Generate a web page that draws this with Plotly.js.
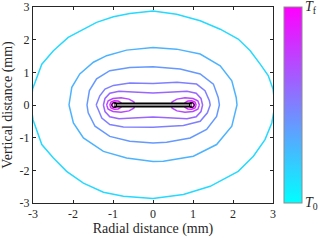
<!DOCTYPE html>
<html>
<head>
<meta charset="utf-8">
<script src="https://cdn.plot.ly/plotly-3.0.1.min.js"></script>
<style>html,body{margin:0;padding:0;background:#fff;}#chart{width:320px;height:240px;}</style>
</head>
<body>
<div id="chart"></div>
<script>
// Contour levels (fraction between T0 and Tf)
var levels = [0.15, 0.30, 0.40, 0.50, 0.60, 0.72, 0.85, 0.95];

// Isotherm coordinates (mm)
var c1x = [-3.05,-3.01,-2.78,-2.49,-2.12,-1.74,-1.41,-0.99,-0.58,0.00,0.59,1.18,1.68,2.13,2.43,2.68,2.88,3.00,3.05,2.97,2.80,2.51,2.13,1.43,0.76,0.00,-0.74,-1.24,-1.74,-2.16,-2.49,-2.78,-3.00,-3.05];
var c1y = [0.00,0.49,1.25,1.66,2.07,2.32,2.53,2.70,2.80,2.88,2.78,2.58,2.32,2.02,1.66,1.25,0.90,0.49,0.00,-0.55,-1.06,-1.57,-2.03,-2.49,-2.74,-2.86,-2.79,-2.67,-2.39,-2.03,-1.62,-1.21,-0.45,0.00];

var c2x = [-2.10,-2.03,-1.83,-1.49,-1.16,-0.66,0.00,0.59,1.18,1.68,1.97,2.08,2.10,1.97,1.59,1.01,0.26,0.00,-0.66,-1.24,-1.74,-1.99,-2.10];
var c2y = [0.00,0.54,0.95,1.31,1.51,1.68,1.76,1.71,1.56,1.20,0.74,0.23,0.00,-0.65,-1.21,-1.57,-1.72,-1.73,-1.62,-1.42,-1.01,-0.55,0.00];

var c3x = [-1.65,-1.59,-1.41,-1.08,-0.58,0.00,0.68,1.18,1.51,1.63,1.66,1.59,1.34,0.93,0.34,0.00,-0.58,-1.08,-1.45,-1.62,-1.65];
var c3y = [0.00,0.44,0.80,1.05,1.15,1.17,1.10,0.95,0.64,0.23,0.00,-0.35,-0.75,-1.01,-1.14,-1.16,-1.11,-0.96,-0.65,-0.24,0.00];

var c4x = [-1.42,-1.37,-1.33,-1.20,-0.99,-0.58,0.00,0.60,1.09,1.30,1.41,1.43,1.36,1.18,0.76,0.00,-0.74,-1.08,-1.28,-1.37,-1.42];
var c4y = [0.00,0.14,0.28,0.49,0.60,0.67,0.66,0.70,0.64,0.44,0.13,0.00,-0.24,-0.50,-0.63,-0.68,-0.67,-0.60,-0.40,-0.14,0.00];

var c5x = [-1.24,-1.20,-1.08,-0.85,-0.50,0.00,0.50,0.85,1.08,1.20,1.24,1.20,1.08,0.85,0.50,0.00,-0.50,-0.85,-1.08,-1.20,-1.24];
var c5y = [0.00,0.20,0.36,0.42,0.40,0.37,0.40,0.42,0.36,0.20,0.00,-0.20,-0.36,-0.42,-0.40,-0.37,-0.40,-0.42,-0.36,-0.20,0.00];

var c6Lx = [-1.16,-1.12,-1.00,-0.80,-0.60,-0.48,-0.45,-0.48,-0.60,-0.80,-1.00,-1.12,-1.16];
var c6Ly = [0.00,0.13,0.20,0.22,0.18,0.10,0.00,-0.10,-0.18,-0.22,-0.20,-0.13,0.00];
var c6Rx = [1.16,1.12,1.00,0.80,0.60,0.48,0.45,0.48,0.60,0.80,1.00,1.12,1.16];
var c6Ry = [0.00,0.13,0.20,0.22,0.18,0.10,0.00,-0.10,-0.18,-0.22,-0.20,-0.13,0.00];

var c7Lx = [-1.08,-1.05,-0.97,-0.87,-0.80,-0.78,-0.80,-0.87,-0.97,-1.05,-1.08];
var c7Ly = [0.00,0.09,0.13,0.12,0.07,0.00,-0.07,-0.12,-0.13,-0.09,0.00];
var c7Rx = [1.08,1.05,0.97,0.87,0.80,0.78,0.80,0.87,0.97,1.05,1.08];
var c7Ry = [0.00,0.09,0.13,0.12,0.07,0.00,-0.07,-0.12,-0.13,-0.09,0.00];

var c8Lx = [-1.03,-1.01,-0.96,-0.91,-0.89,-0.91,-0.96,-1.01,-1.03];
var c8Ly = [0.00,0.05,0.07,0.05,0.00,-0.05,-0.07,-0.05,0.00];
var c8Rx = [1.03,1.01,0.96,0.91,0.89,0.91,0.96,1.01,1.03];
var c8Ry = [0.00,0.05,0.07,0.05,0.00,-0.05,-0.07,-0.05,0.00];

// Heater needle
var needleX = [-0.97, 0.97];
var needleY = [0, 0];

var xTicks = [-3,-2,-1,0,1,2,3];
var xTickText = ['-3','-2','-1','0','1','2','3'];
var yTicks = [-3,-2,-1,0,1,2,3];
var yTickText = ['-3','-2','-1','0','1','2','3'];
var cbarLabels = ['<i>T</i><sub>0</sub>', '<i>T</i><sub>f</sub>'];

var SERIF = 'Liberation Serif';

function cool(t){
  var r = Math.round(255*t), g = Math.round(255*(1-t));
  return 'rgb(' + r + ',' + g + ',255)';
}

var contours = [
  [c1x,c1y,0],[c2x,c2y,1],[c3x,c3y,2],[c4x,c4y,3],[c5x,c5y,4],
  [c6Lx,c6Ly,5],[c6Rx,c6Ry,5],[c7Lx,c7Ly,6],[c7Rx,c7Ry,6],[c8Lx,c8Ly,7],[c8Rx,c8Ry,7]
];

var traces = contours.map(function(c){
  return {x:c[0], y:c[1], type:'scatter', mode:'lines',
    line:{color:cool(levels[c[2]]), width:1.5, shape:'linear'},
    hoverinfo:'skip', showlegend:false};
});

traces.push({x:needleX, y:needleY, type:'scatter', mode:'lines', line:{color:'#000', width:5}, showlegend:false, hoverinfo:'skip'});
traces.push({x:needleX, y:needleY, type:'scatter', mode:'lines+markers', line:{color:'#b4b4b4', width:1.6},
  marker:{size:5, color:'rgba(0,0,0,0)', line:{color:'#000', width:1}}, showlegend:false, hoverinfo:'skip'});

traces.push({x:[null,null], y:[null,null], type:'scatter', mode:'markers', showlegend:false, hoverinfo:'skip',
  marker:{color:[0,1], cmin:0, cmax:1, colorscale:[[0,'rgb(0,255,255)'],[1,'rgb(255,0,255)']], showscale:true,
    colorbar:{thickness:18, thicknessmode:'pixels', len:1, lenmode:'fraction', x:1.046, xanchor:'left', y:0.5, yanchor:'middle',
      xpad:0, ypad:0, outlinewidth:1, outlinecolor:'#8c8c8c', showticklabels:false, ticks:''}}});

var axisCommon = {showgrid:false, zeroline:false, showline:true, linecolor:'#262626', linewidth:1, mirror:'ticks',
  ticks:'inside', ticklen:3, tickcolor:'#262626', tickfont:{family:SERIF, size:12, color:'#262626'}};

var layout = {
  width:320, height:240,
  margin:{l:33, r:47, t:7, b:37, pad:0},
  paper_bgcolor:'#fff', plot_bgcolor:'#fff',
  font:{family:SERIF, color:'#262626'},
  xaxis:Object.assign({}, axisCommon, {range:[-3,3], tickvals:xTicks, ticktext:xTickText,
    title:{text:'Radial distance (mm)', font:{family:SERIF, size:14, color:'#262626'}, standoff:2}}),
  yaxis:Object.assign({}, axisCommon, {range:[-3,3], tickvals:yTicks, ticktext:yTickText,
    title:{text:'Vertical distance (mm)', font:{family:SERIF, size:14, color:'#262626'}, standoff:4}}),
  annotations:[
    {text:cbarLabels[1], xref:'paper', yref:'paper', x:1.125, y:1.0, xanchor:'left', yanchor:'middle', showarrow:false,
      font:{family:SERIF, size:14, color:'#262626'}},
    {text:cbarLabels[0], xref:'paper', yref:'paper', x:1.125, y:-0.005, xanchor:'left', yanchor:'middle', showarrow:false,
      font:{family:SERIF, size:14, color:'#262626'}}
  ],
  showlegend:false
};

Plotly.newPlot('chart', traces, layout, {staticPlot:true, displayModeBar:false});
</script>
</body>
</html>
